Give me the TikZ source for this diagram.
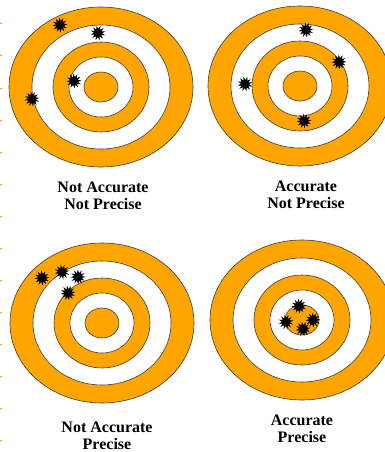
\documentclass[tikz,border=0pt]{standalone}
\usepackage{fontspec}
\setmainfont{Liberation Serif}
\usetikzlibrary{shapes.geometric}
\definecolor{tgtfill}{HTML}{FFA500}
\definecolor{tgtline}{HTML}{3C3C3C}
\tikzset{
  ringo/.style  = {fill=tgtfill, draw=tgtline, line width=0.6pt},
  ringw/.style  = {fill=white, draw=tgtline, line width=0.6pt},
  hole/.style   = {star, star points=12, star point ratio=1.9, fill=black,
                   inner sep=0pt, minimum size=15pt},
  caption/.style = {font=\fontsize{16}{17}\selectfont\bfseries, align=center},
  tick/.style   = {draw=tgtfill, line width=1pt},
}
% one target: centre
\newcommand{\target}[1]{%
  \draw[ringo] (#1) ellipse (92 and 80);
  \draw[ringw] (#1) ellipse (69 and 62);
  \draw[ringo] (#1) ellipse (48 and 45);
  \draw[ringw] (#1) ellipse (32 and 30);
  \draw[ringo] (#1) ellipse (17 and 15);
}

\begin{document}
\begin{tikzpicture}[x=1pt, y=-1pt]
  \useasboundingbox (0,0) rectangle (385,452);
  % marks on the left edge
  \foreach \k in {0,...,13}
    \draw[tick] (0,{24+32*\k}) -- (2,{24+32*\k});

  \target{101,87}
  \target{300,86}
  \target{102,323}
  \target{302,320}

  % shots
  \node[hole, rotate=5]  (h1)  at (60,25)  {};
  \node[hole, rotate=12] (h2)  at (98,33)  {};
  \node[hole, rotate=3]  (h3)  at (74,81)  {};
  \node[hole, rotate=9]  (h4)  at (32,99)  {};

  \node[hole, rotate=7]  (h5)  at (306,30) {};
  \node[hole, rotate=2]  (h6)  at (339,62) {};
  \node[hole, rotate=11] (h7)  at (245,84) {};
  \node[hole, rotate=6]  (h8)  at (304,121) {};

  \node[hole, rotate=4]  (h9)  at (42,278) {};
  \node[hole, rotate=10] (h10) at (62,272) {};
  \node[hole, rotate=1]  (h11) at (78,277) {};
  \node[hole, rotate=8]  (h12) at (68,293) {};

  \node[hole, rotate=5]  (h13) at (299,306) {};
  \node[hole, rotate=12] (h14) at (286,322) {};
  \node[hole, rotate=3]  (h15) at (313,320) {};
  \node[hole, rotate=9]  (h16) at (303,329) {};

  % captions
  \node[caption] (capa) at (103,196) {Not Accurate\\Not Precise};
  \node[caption] (capb) at (306,195) {Accurate\\Not Precise};
  \node[caption] (capc) at (107,436) {Not Accurate\\Precise};
  \node[caption] (capd) at (302,429) {Accurate\\Precise};
\end{tikzpicture}
\end{document}
